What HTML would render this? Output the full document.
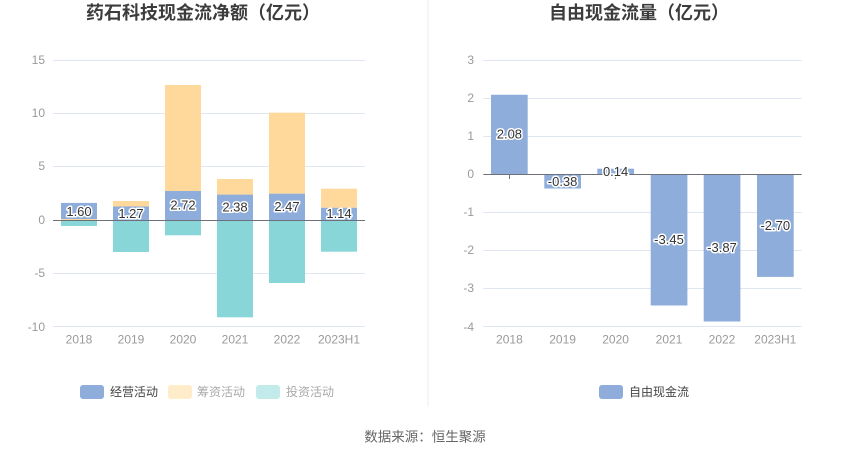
<!DOCTYPE html>
<html>
<head>
<meta charset="utf-8">
<style>
html,body{margin:0;padding:0;background:#fff;}
body{width:850px;height:459px;overflow:hidden;}
svg{display:block;}
text{font-family:"Liberation Sans","Noto Sans CJK SC",sans-serif;}
.yl{font-size:12px;fill:#9a9a9a;text-anchor:end;dominant-baseline:central;}
.xl{font-size:12px;fill:#9a9a9a;text-anchor:middle;dominant-baseline:central;}
.lb{font-size:13px;fill:#333;text-anchor:middle;dominant-baseline:central;stroke:#fff;stroke-width:3px;paint-order:stroke;stroke-linejoin:round;}
.tt{font-size:18px;font-weight:bold;fill:#3c3c3c;text-anchor:middle;dominant-baseline:central;}
.lg{font-size:12px;dominant-baseline:central;}
</style>
</head>
<body>
<svg width="850" height="459" viewBox="0 0 850 459" xmlns="http://www.w3.org/2000/svg">
<rect width="850" height="459" fill="#fff"/>
<!-- divider -->
<line x1="428" y1="0" x2="428" y2="407" stroke="#eeeeee" stroke-width="1"/>

<!-- LEFT CHART -->
<text class="tt" x="203" y="13">药石科技现金流净额（亿元）</text>
<g stroke="#e0e6f1" stroke-width="1">
<line x1="53" y1="60.5" x2="365" y2="60.5"/>
<line x1="53" y1="113.5" x2="365" y2="113.5"/>
<line x1="53" y1="166.5" x2="365" y2="166.5"/>
<line x1="53" y1="273.5" x2="365" y2="273.5"/>
<line x1="53" y1="326.5" x2="365" y2="326.5"/>
</g>
<text class="yl" x="45" y="60">15</text>
<text class="yl" x="45" y="113">10</text>
<text class="yl" x="45" y="166">5</text>
<text class="yl" x="45" y="220">0</text>
<text class="yl" x="45" y="273">-5</text>
<text class="yl" x="45" y="327">-10</text>

<g>
<!-- 2018 -->
<rect x="61" y="202.9" width="36" height="17.1" fill="#8eaddb"/>
<rect x="61" y="219" width="36" height="2" fill="#ffd89b"/>
<rect x="61" y="221" width="36" height="5" fill="#88d6d8"/>
<!-- 2019 -->
<rect x="113" y="201" width="36" height="5.5" fill="#ffd89b"/>
<rect x="113" y="206.5" width="36" height="13.5" fill="#8eaddb"/>
<rect x="113" y="220" width="36" height="32" fill="#88d6d8"/>
<!-- 2020 -->
<rect x="165" y="85" width="36" height="106" fill="#ffd89b"/>
<rect x="165" y="191" width="36" height="29" fill="#8eaddb"/>
<rect x="165" y="220" width="36" height="15.3" fill="#88d6d8"/>
<!-- 2021 -->
<rect x="217" y="179" width="36" height="15.6" fill="#ffd89b"/>
<rect x="217" y="194.6" width="36" height="25.4" fill="#8eaddb"/>
<rect x="217" y="220" width="36" height="97.3" fill="#88d6d8"/>
<!-- 2022 -->
<rect x="269" y="112.7" width="36" height="81" fill="#ffd89b"/>
<rect x="269" y="193.7" width="36" height="26.3" fill="#8eaddb"/>
<rect x="269" y="220" width="36" height="63" fill="#88d6d8"/>
<!-- 2023H1 -->
<rect x="321" y="188.7" width="36" height="19.1" fill="#ffd89b"/>
<rect x="321" y="207.8" width="36" height="12.2" fill="#8eaddb"/>
<rect x="321" y="220" width="36" height="31.7" fill="#88d6d8"/>
</g>
<line x1="53" y1="220.5" x2="365" y2="220.5" stroke="#6e7079" stroke-width="1"/>
<text class="lb" x="79" y="211.5">1.60</text>
<text class="lb" x="131" y="213.3">1.27</text>
<text class="lb" x="183" y="205">2.72</text>
<text class="lb" x="235" y="207">2.38</text>
<text class="lb" x="287" y="206.5">2.47</text>
<text class="lb" x="339" y="213.5">1.14</text>

<text class="xl" x="79" y="339.5">2018</text>
<text class="xl" x="131" y="339.5">2019</text>
<text class="xl" x="183" y="339.5">2020</text>
<text class="xl" x="235" y="339.5">2021</text>
<text class="xl" x="287" y="339.5">2022</text>
<text class="xl" x="339" y="339.5">2023H1</text>

<!-- left legend -->
<rect x="80" y="385" width="24" height="14" rx="3" fill="#8eaddb"/>
<text class="lg" x="110" y="392" fill="#444">经营活动</text>
<rect x="168" y="385" width="24" height="14" rx="3" fill="#ffeccb"/>
<text class="lg" x="197" y="392" fill="#aaaaaa">筹资活动</text>
<rect x="256" y="385" width="24" height="14" rx="3" fill="#c3ebec"/>
<text class="lg" x="286" y="392" fill="#aaaaaa">投资活动</text>

<!-- RIGHT CHART -->
<text class="tt" x="639" y="13">自由现金流量（亿元）</text>
<g stroke="#e0e6f1" stroke-width="1">
<line x1="483.3" y1="60.5" x2="801.7" y2="60.5"/>
<line x1="483.3" y1="98.5" x2="801.7" y2="98.5"/>
<line x1="483.3" y1="136.5" x2="801.7" y2="136.5"/>
<line x1="483.3" y1="212.5" x2="801.7" y2="212.5"/>
<line x1="483.3" y1="250.5" x2="801.7" y2="250.5"/>
<line x1="483.3" y1="288.5" x2="801.7" y2="288.5"/>
<line x1="483.3" y1="326.5" x2="801.7" y2="326.5"/>
</g>
<text class="yl" x="474" y="60">3</text>
<text class="yl" x="474" y="98">2</text>
<text class="yl" x="474" y="136">1</text>
<text class="yl" x="474" y="174">0</text>
<text class="yl" x="474" y="212">-1</text>
<text class="yl" x="474" y="250">-2</text>
<text class="yl" x="474" y="288">-3</text>
<text class="yl" x="474" y="327">-4</text>

<g stroke="#6e7079" stroke-width="1">
<line x1="509.5" y1="174" x2="509.5" y2="179"/>
<line x1="615.5" y1="174" x2="615.5" y2="179"/>
</g>
<g fill="#8eaddb">
<rect x="491" y="94.75" width="36.7" height="79.25"/>
<rect x="544.3" y="174" width="36.7" height="14.5"/>
<rect x="597.3" y="168.7" width="36.7" height="5.3"/>
<rect x="650.7" y="174" width="36.7" height="131.5"/>
<rect x="703.7" y="174" width="36.7" height="147.5"/>
<rect x="757" y="174" width="36.7" height="102.9"/>
</g>
<line x1="483.3" y1="174.5" x2="801.7" y2="174.5" stroke="#6e7079" stroke-width="1"/>
<text class="lb" x="509.4" y="134">2.08</text>
<text class="lb" x="562.6" y="181.3">-0.38</text>
<text class="lb" x="615.6" y="171.3">0.14</text>
<text class="lb" x="669" y="239.5">-3.45</text>
<text class="lb" x="722" y="247.5">-3.87</text>
<text class="lb" x="775.3" y="225.3">-2.70</text>

<text class="xl" x="509.4" y="339.5">2018</text>
<text class="xl" x="562.6" y="339.5">2019</text>
<text class="xl" x="615.6" y="339.5">2020</text>
<text class="xl" x="669" y="339.5">2021</text>
<text class="xl" x="722" y="339.5">2022</text>
<text class="xl" x="775.3" y="339.5">2023H1</text>

<rect x="599" y="385" width="24" height="14" rx="3" fill="#8eaddb"/>
<text class="lg" x="629" y="392" fill="#444">自由现金流</text>

<!-- source -->
<text x="425" y="437" font-size="13.5" fill="#666" text-anchor="middle" dominant-baseline="central">数据来源：恒生聚源</text>
</svg>
</body>
</html>
